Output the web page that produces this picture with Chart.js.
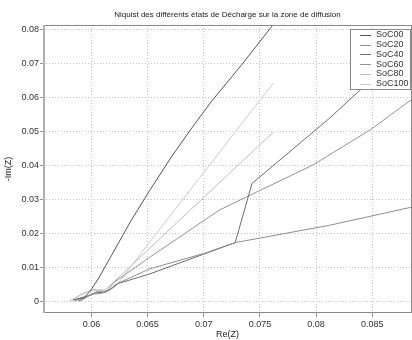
<!DOCTYPE html>
<html>
<head>
<meta charset="utf-8">
<script src="https://cdn.jsdelivr.net/npm/chart.js@4"></script>
<style>
  html, body { margin: 0; padding: 0; background: #fff; }
  canvas { display: block; }
</style>
</head>
<body>
<canvas id="nyquist" width="412" height="340"></canvas>
<script>
/* Nyquist, zone de diffusion : Re(Z) / -Im(Z) par état de charge */

const TITLE = 'Niquist des différents états de Décharge sur la zone de diffusion';
const labels = ['SoC00', 'SoC20', 'SoC40', 'SoC60', 'SoC80', 'SoC100'];
const colors = ['#555555', '#8e8e8e', '#6c6c6c', '#939393', '#bdbdbd', '#cbcbcb'];

const soc00Re  = [0.0584, 0.0589, 0.0594, 0.0599, 0.0606, 0.0618, 0.0635, 0.0652, 0.0670, 0.0688, 0.0707, 0.0735, 0.0762];
const soc00Im  = [0.0003, 0.0008, 0.0012, 0.0030, 0.0065, 0.0135, 0.0235, 0.0326, 0.0418, 0.0503, 0.0588, 0.0700, 0.0814];

const soc20Re  = [0.0585, 0.0592, 0.0600, 0.0608, 0.0615, 0.0622, 0.0652, 0.0700, 0.0728, 0.0812, 0.0890];
const soc20Im  = [0.0000, 0.0010, 0.0020, 0.0022, 0.0030, 0.0050, 0.0095, 0.0140, 0.0172, 0.0223, 0.0280];

const soc40Re  = [0.0588, 0.0595, 0.0603, 0.0611, 0.0617, 0.0624, 0.0652, 0.0685, 0.0728, 0.0743, 0.0812, 0.0839, 0.0890];
const soc40Im  = [0.0000, 0.0012, 0.0024, 0.0026, 0.0035, 0.0052, 0.0080, 0.0120, 0.0172, 0.0346, 0.0538, 0.0620, 0.0760];

const soc60Re  = [0.0590, 0.0597, 0.0605, 0.0613, 0.0620, 0.0652, 0.0714, 0.0797, 0.0848, 0.0890];
const soc60Im  = [0.0000, 0.0014, 0.0028, 0.0026, 0.0055, 0.0129, 0.0268, 0.0400, 0.0503, 0.0605];

const soc80Re  = [0.0582, 0.0591, 0.0601, 0.0611, 0.0618, 0.0652, 0.0700, 0.0762];
const soc80Im  = [0.0000, 0.0020, 0.0034, 0.0030, 0.0050, 0.0156, 0.0305, 0.0497];

const soc100Re = [0.0580, 0.0589, 0.0599, 0.0609, 0.0616, 0.0622, 0.0652, 0.0700, 0.0750, 0.0762];
const soc100Im = [0.0000, 0.0016, 0.0030, 0.0034, 0.0030, 0.0045, 0.0174, 0.0378, 0.0591, 0.0641];

const xTicks = [0.06, 0.065, 0.07, 0.075, 0.08, 0.085];
const yTicks = [0, 0.01, 0.02, 0.03, 0.04, 0.05, 0.06, 0.07, 0.08];

const FONT = 'Liberation Sans, Arial, sans-serif';
const series = [
  [soc00Re, soc00Im], [soc20Re, soc20Im], [soc40Re, soc40Im],
  [soc60Re, soc60Im], [soc80Re, soc80Im], [soc100Re, soc100Im],
];

const zip = (xs, ys) => xs.map((x, i) => ({ x, y: ys[i] }));
const fmt = v => String(+v.toFixed(3));

/* ── titre centré sur les axes, cadre, légende dans la zone de tracé ── */
const framePlugin = {
  id: 'frame',
  afterDatasetsDraw(chart) {
    const { ctx, chartArea: a } = chart;
    ctx.save();

    ctx.fillStyle = '#222';
    ctx.font = '8px ' + FONT;
    ctx.textAlign = 'center';
    ctx.textBaseline = 'middle';
    ctx.fillText(TITLE, (a.left + a.right) / 2, 15);
    ctx.textAlign = 'left';

    ctx.strokeStyle = '#8a8a8a';
    ctx.lineWidth = 1;
    ctx.strokeRect(a.left + 0.5, a.top + 0.5, a.right - a.left - 1, a.bottom - a.top - 1);
    ctx.strokeStyle = '#b0b0b0';
    ctx.lineWidth = 2;
    ctx.beginPath();
    ctx.moveTo(a.left + 1, a.top);
    ctx.lineTo(a.left + 1, a.bottom);
    ctx.stroke();

    // légende
    const bx = a.right - 62, by = a.top + 4, bw = 61, bh = 61;
    ctx.fillStyle = '#fff';
    ctx.fillRect(bx, by, bw, bh);
    ctx.strokeStyle = '#8a8a8a';
    ctx.lineWidth = 1;
    ctx.strokeRect(bx + 0.5, by + 0.5, bw - 1, bh - 1);
    ctx.font = '9px ' + FONT;
    chart.data.datasets.forEach((ds, i) => {
      const y = by + 6 + i * 9.7;
      ctx.strokeStyle = ds.borderColor;
      ctx.beginPath();
      ctx.moveTo(bx + 10, Math.round(y) + 0.5);
      ctx.lineTo(bx + 21, Math.round(y) + 0.5);
      ctx.stroke();
      ctx.fillStyle = '#333';
      ctx.fillText(ds.label, bx + 26, y);
    });
    ctx.restore();
  },
};

new Chart(document.getElementById('nyquist'), {
  type: 'scatter',
  data: {
    datasets: series.map(([re, im], i) => ({
      label: labels[i],
      data: zip(re, im),
      showLine: true,
      borderColor: colors[i],
      backgroundColor: colors[i],
      borderWidth: 1,
      pointRadius: 0,
      tension: 0,
    })),
  },
  options: {
    responsive: false,
    animation: false,
    devicePixelRatio: 1,
    layout: { padding: { top: 25, left: 0, right: 0, bottom: 0 } },
    plugins: {
      legend: { display: false },
      tooltip: { enabled: false },
      title: { display: false },
    },
    scales: {
      x: {
        type: 'linear',
        min: 0.05569,
        max: 0.08854,
        afterBuildTicks: s => { s.ticks = xTicks.map(value => ({ value })); },
        afterFit: s => { s.height = 27; },
        ticks: { callback: fmt, color: '#333', padding: 2, maxRotation: 0, font: { family: FONT, size: 9 } },
        grid: { color: '#c4c4c4', tickLength: 4, tickColor: '#999', tickBorderDash: [] },
        border: { display: false, dash: [1, 2] },
        title: { display: true, text: 'Re(Z)', color: '#222', padding: 0, font: { family: FONT, size: 9 } },
      },
      y: {
        type: 'linear',
        min: -0.0035,
        max: 0.0812,
        afterBuildTicks: s => { s.ticks = yTicks.map(value => ({ value })); },
        afterFit: s => { s.width = 43; },
        ticks: { callback: fmt, color: '#333', padding: 1, font: { family: FONT, size: 9 } },
        grid: { color: '#c4c4c4', tickLength: 3, tickColor: '#999', tickBorderDash: [] },
        border: { display: false, dash: [1, 2] },
        title: { display: true, text: '-Im(Z)', color: '#222', padding: 3, font: { family: FONT, size: 9 } },
      },
    },
  },
  plugins: [framePlugin],
});
</script>
</body>
</html>
